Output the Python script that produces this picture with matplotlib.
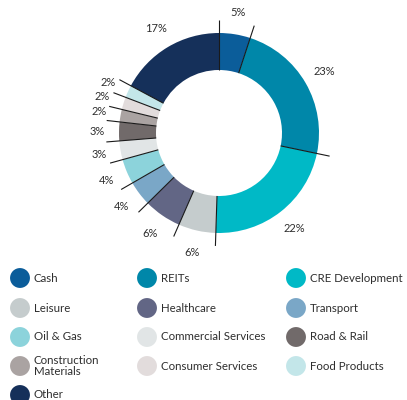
import numpy as np, matplotlib as mpl
mpl.use("Agg")
import matplotlib.pyplot as plt

mpl.rcParams.update({"font.family": ["Lato", "DejaVu Sans"], "font.size": 8})
TXT = "#2e2e2e"

sectors = ["Cash", "REITs", "CRE Development", "Leisure", "Healthcare", "Transport",
           "Oil & Gas", "Commercial Services", "Road & Rail", "Construction\nMaterials",
           "Consumer Services", "Food Products", "Other"]
shares = [5, 23, 22, 6, 6, 4, 4, 3, 3, 2, 2, 2, 17]
colors = ["#0b5d9a", "#0087a9", "#00b9c6", "#c5cccd", "#626685", "#7aa7c7", "#8cd3db",
          "#e1e5e6", "#716a6a", "#aaa3a2", "#e2dcdc", "#c3e6e9", "#15305a"]

fig = plt.figure(figsize=(4.07, 4.00), dpi=100)
# donut: centre at (219,133) px, outer radius 100 px
ax = fig.add_axes([79 / 407, 127 / 400, 280 / 407, 280 / 400])
wedges, _ = ax.pie(shares, colors=colors, radius=1, startangle=90, counterclock=False,
                   wedgeprops=dict(width=0.37, edgecolor="none"))
ax.set_xlim(-1.4, 1.4); ax.set_ylim(-1.4, 1.4); ax.axis("off")
for w, v in zip(wedges, shares):
    t = np.deg2rad(w.theta1)
    ax.plot([0.63 * np.cos(t), 1.13 * np.cos(t)], [0.63 * np.sin(t), 1.13 * np.sin(t)],
            color="#1a1a1a", lw=0.8, solid_capstyle="butt")
    m = np.deg2rad((w.theta1 + w.theta2) / 2)
    ax.text(1.22 * np.cos(m), 1.22 * np.sin(m), f"{v}%", ha="center", va="center",
            color=TXT)

# legend, row-wise in three columns
lg = fig.add_axes([0, 0, 1, 1]); lg.set_xlim(0, 407); lg.set_ylim(400, 0); lg.axis("off")
col_x = [20, 147, 296]
row_y = [278, 308, 337, 366, 395]
for i, (name, c) in enumerate(zip(sectors, colors)):
    x, y = col_x[i % 3], row_y[i // 3]
    lg.scatter([x], [y], s=205, color=c, edgecolors="none")
    lg.text(x + 14, y, name, ha="left", va="center", color=TXT, fontsize=8.3,
            linespacing=1.0)

fig.savefig("out.png", dpi=100)
